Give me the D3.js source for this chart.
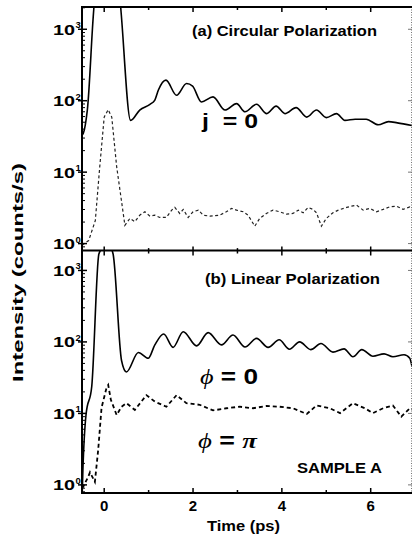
<!DOCTYPE html>
<html><head><meta charset="utf-8">
<script src="https://cdn.jsdelivr.net/npm/d3@7"></script>
<style>
body{margin:0;background:#fff;}
svg text{font-family:"Liberation Sans",Arial,Helvetica,sans-serif;font-weight:bold;fill:#000;}
</style></head>
<body><svg id="c" width="413" height="539"></svg>
<script>
// ---- data ----
const xTicks = [0, 2, 4, 6];
const yTickExps = [0, 1, 2, 3];
// panel (a) circular polarization, solid (j = 0)
const aSolidT = [-0.5,-0.47,-0.38,-0.2,0.05,0.3,0.595,0.8,1.03,1.14,1.22,1.39,1.63,1.855,1.99,2.19,2.45,2.72,2.98,3.17,3.43,3.66,3.87,4.07,4.32,4.56,4.78,5.0,5.23,5.42,5.65,5.9,6.17,6.4,6.6,6.93];
const aSolidV = [33,35,74,3000,6000,4500,53,74,89,102,141,194,119,174,160,96,113,74,91,70,89,66,84,66,80,59,74,58,66,53,55,55,46,51,49,45];
// panel (a) dashed
const aDashT = [-0.5,-0.35,-0.2,-0.1,0.0,0.09,0.17,0.28,0.43,0.466,0.578,0.69,0.80,0.915,1.03,1.14,1.25,1.40,1.52,1.59,1.70,1.78,1.89,2.0,2.12,2.23,2.38,2.60,2.75,2.87,2.98,3.13,3.24,3.39,3.50,3.65,3.80,3.95,4.10,4.25,4.37,4.48,4.59,4.70,4.78,4.89,5.0,5.15,5.27,5.46,5.57,5.68,5.83,5.98,6.13,6.28,6.43,6.58,6.73,6.88,6.93];
const aDashV = [0.95,1.1,2.1,12,59,75,59,12,2.6,1.8,2.25,2.02,2.5,2.79,2.42,2.5,2.32,2.32,2.94,3.21,2.64,3.01,2.32,2.79,2.94,2.5,2.42,2.5,2.79,3.11,2.94,2.79,2.5,1.75,2.25,2.64,2.94,2.79,2.59,2.64,2.94,2.7,3.21,3.01,2.7,1.75,2.25,2.7,2.94,3.21,3.34,3.45,2.94,3.11,2.79,3.01,3.27,3.34,3.01,3.27,3.1];
// panel (b) linear polarization, solid (phi = 0)
const bSolidT = [-0.5,-0.48,-0.41,-0.28,-0.12,0.0,0.1,0.2,0.39,0.5,0.77,0.99,1.14,1.34,1.55,1.78,2.08,2.34,2.64,2.90,3.17,3.43,3.69,3.94,4.17,4.4,4.65,4.88,5.15,5.4,5.6,5.8,6.05,6.3,6.5,6.75,6.88,6.93];
const bSolidV = [0.6,1.6,9.5,24,1700,2200,2300,1700,55,38,71,59,91,129,84,139,88,135,91,125,85,112,84,107,79,100,78,95,72,80,62,78,63,68,62,66,59,45];
// panel (b) dashed (phi = pi)
const bDashT = [-0.5,-0.47,-0.36,-0.32,-0.21,-0.135,-0.06,0.054,0.09,0.15,0.28,0.39,0.5,0.69,0.95,1.14,1.40,1.63,1.85,2.15,2.45,2.75,3.05,3.35,3.65,3.95,4.25,4.56,4.78,5.08,5.31,5.60,5.87,6.05,6.28,6.50,6.69,6.88,6.93];
const bDashV = [0.9,0.95,1.3,1.5,1.1,3.1,12,23,25,15.5,9.5,12.4,13.9,11.2,18,14.6,12.4,18,13.9,13.2,11,11.8,12.4,11.8,12.7,12.4,11.8,9.8,12.9,11.8,10.1,13.9,11.8,10.1,11.8,12.9,9,11.8,11.5];

const svg = d3.select("#c");
const L = 82, R = 412;
const x = d3.scaleLinear().domain([-0.5, 6.93]).range([L, R]);
const yA = d3.scaleLog().domain([0.8, 2050]).range([250.5, 7]);
const yB = d3.scaleLog().domain([0.77, 1900]).range([493, 250.5]);

function txt(px, py, s, size, len) {
  const t = svg.append("text").attr("x", px).attr("y", py).style("font-size", size + "px").text(s);
  if (len) t.attr("textLength", len).attr("lengthAdjust", "spacingAndGlyphs");
  return t;
}

function panel(id, y, solidT, solidV, dashT, dashV, dashW, dashArr, dashCol) {
  const [y0, y1] = y.range(); // bottom, top
  svg.append("clipPath").attr("id", id).append("rect")
    .attr("x", L).attr("y", y1).attr("width", R - L).attr("height", y0 - y1);
  const g = svg.append("g").attr("clip-path", `url(#${id})`);
  const line = d3.line().x(d => x(d[0])).y(d => y(d[1]));
  const smooth = d3.line().x(d => x(d[0])).y(d => y(d[1])).curve(d3.curveMonotoneX);
  g.append("path").datum(dashT.map((t, i) => [t, dashV[i]]))
    .attr("d", line).attr("fill", "none").attr("stroke", dashCol)
    .attr("stroke-width", dashW).attr("stroke-dasharray", dashArr);
  g.append("path").datum(solidT.map((t, i) => [t, solidV[i]]))
    .attr("d", smooth).attr("fill", "none").attr("stroke", "#000")
    .attr("stroke-width", 1.6).attr("stroke-linejoin", "round");
  const ax = svg.append("g");
  ax.append("line").attr("x1", L).attr("x2", L).attr("y1", y1).attr("y2", y0)
    .attr("stroke", "#000").attr("stroke-width", 2);
  ax.append("line").attr("x1", R - 0.5).attr("x2", R - 0.5).attr("y1", y1).attr("y2", y0)
    .attr("stroke", "#777").attr("stroke-width", 1).attr("stroke-dasharray", "1,1.5");
  const [dmin, dmax] = y.domain();
  for (let e = -1; e <= 3; e++) {
    for (let m = 1; m <= 9; m++) {
      const v = m * Math.pow(10, e);
      if (v < dmin || v > dmax) continue;
      const yy = y(v);
      if (m === 1) {
        ax.append("line").attr("x1", L - 4).attr("x2", L + 5).attr("y1", yy).attr("y2", yy)
          .attr("stroke", "#000").attr("stroke-width", 1.5);
        ax.append("line").attr("x1", R - 4).attr("x2", R).attr("y1", yy).attr("y2", yy)
          .attr("stroke", "#777").attr("stroke-width", 1);
      } else {
        ax.append("line").attr("x1", L).attr("x2", L + 3).attr("y1", yy).attr("y2", yy)
          .attr("stroke", "#000").attr("stroke-width", 1);
      }
    }
  }
  yTickExps.forEach(e => {
    const yy = y(Math.pow(10, e));
    ax.append("text").attr("x", 53).attr("y", yy + 5.5).style("font-size", "14.5px")
      .attr("textLength", 22).attr("lengthAdjust", "spacingAndGlyphs").text("10");
    ax.append("text").attr("x", 75.5).attr("y", yy - 1).style("font-size", "9.5px").text(String(e));
  });
}

panel("ca", yA, aSolidT, aSolidV, aDashT, aDashV, 1.2, "3,2.5", "#222");
panel("cb", yB, bSolidT, bSolidV, bDashT, bDashV, 1.8, "4,3", "#000");

function hline(yy, up, down) {
  svg.append("line").attr("x1", L - 1).attr("x2", R).attr("y1", yy).attr("y2", yy)
    .attr("stroke", "#000").attr("stroke-width", 2);
  d3.range(0, 7).forEach(t => {
    const major = t % 2 === 0;
    const a = major ? up : up * 0.6, b = major ? down : down * 0.6;
    svg.append("line").attr("x1", x(t)).attr("x2", x(t)).attr("y1", yy - a).attr("y2", yy + b)
      .attr("stroke", "#000").attr("stroke-width", 1.5);
  });
}
hline(7, 0, 5);
hline(250.5, 4, 5);
hline(493, 5, 0);

svg.append("g").selectAll("text").data(xTicks).join("text")
  .attr("x", d => x(d)).attr("y", 511).attr("text-anchor", "middle")
  .style("font-size", "15px").text(d => d);
txt(207, 531, "Time (ps)", 15, 73);
svg.append("text").attr("transform", "translate(23,382) rotate(-90)")
  .style("font-size", "15px").attr("textLength", 219).attr("lengthAdjust", "spacingAndGlyphs")
  .text("Intensity (counts/s)");

txt(192, 36, "(a) Circular Polarization", 14, 185);
txt(205, 284, "(b) Linear Polarization", 14, 175);
txt(202, 128, "j\u00A0\u00A0= 0", 21, 56);
const p0 = svg.append("text").attr("x", 200).attr("y", 384).style("font-size", "22px")
  .attr("textLength", 58).attr("lengthAdjust", "spacingAndGlyphs");
p0.append("tspan").style("font-style", "italic").style("font-family", "'Liberation Serif',serif").style("font-weight", "normal").text("\u03D5");
p0.append("tspan").text(" = 0");
const p1 = svg.append("text").attr("x", 198).attr("y", 448).style("font-size", "22px")
  .attr("textLength", 59).attr("lengthAdjust", "spacingAndGlyphs");
p1.append("tspan").style("font-style", "italic").style("font-family", "'Liberation Serif',serif").style("font-weight", "normal").text("\u03D5");
p1.append("tspan").text(" = ");
p1.append("tspan").style("font-style", "italic").style("font-family", "'Liberation Serif',serif").text("\u03C0");
txt(297, 473, "SAMPLE A", 14, 85);
</script></body></html>
